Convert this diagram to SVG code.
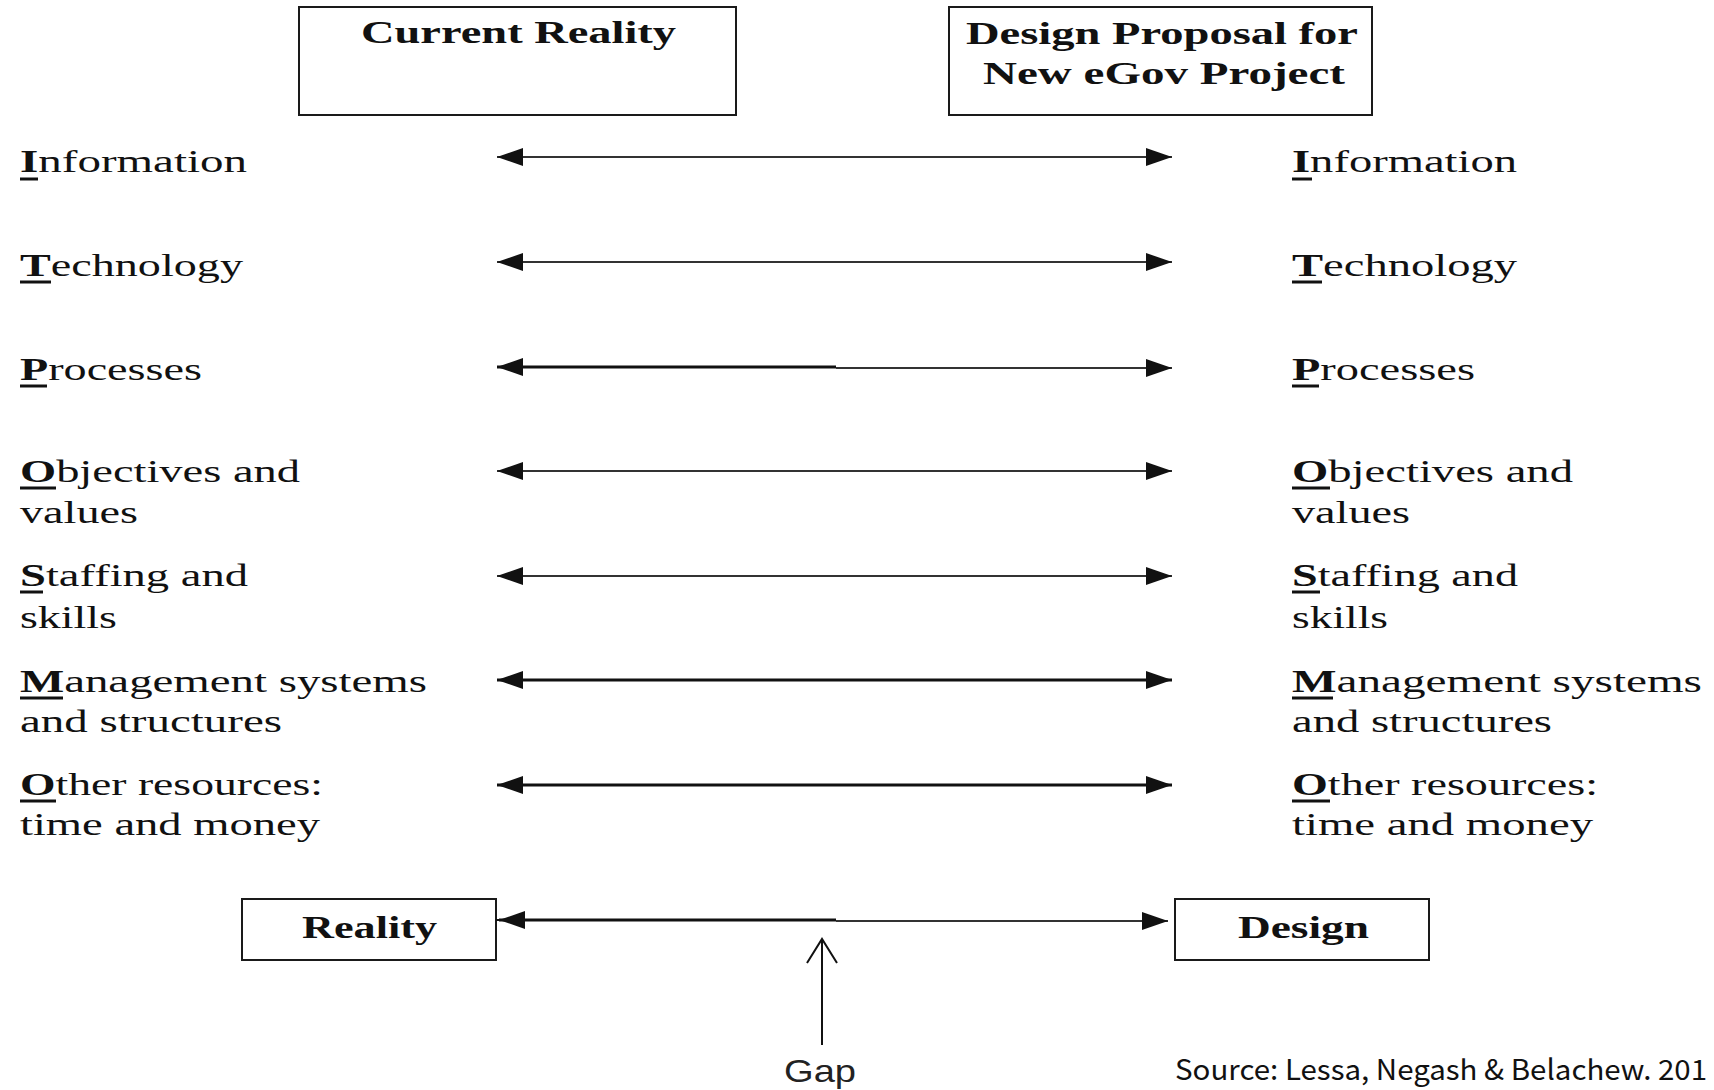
<svg xmlns="http://www.w3.org/2000/svg" width="1714" height="1090" viewBox="0 0 1714 1090">
<style>
.box{fill:#fff;stroke:#1a1a1a;stroke-width:2}
.ttl{font-family:"Liberation Serif",serif;font-weight:bold;font-size:32px;fill:#111}
.lbl{font-family:"Liberation Serif",serif;font-size:31px;fill:#111}
.ini{font-weight:bold}
.ul{stroke:#111;stroke-width:3}
.ar{fill:none;stroke:#333;stroke-width:2.2;marker-start:url(#ah);marker-end:url(#ah)}
.ar.thk{stroke:#111;stroke-width:3}
.gap{font-family:"Liberation Sans",sans-serif;font-size:32px;fill:#222}
.src{font-family:"Noto Sans CJK SC","Liberation Sans",sans-serif;font-size:28px;fill:#111}
</style>
<defs>
<marker id="ah" markerUnits="userSpaceOnUse" markerWidth="28" markerHeight="20" refX="26" refY="9" orient="auto-start-reverse">
<path d="M0,0 L26,9 L0,18 Z" fill="#111"/>
</marker>
</defs>
<rect width="1714" height="1090" fill="#fff"/>

<g id="current-reality">
<rect class="box" x="299" y="7" width="437" height="108"/>
<text class="ttl" x="361" y="43" textLength="315" lengthAdjust="spacingAndGlyphs">Current Reality</text>
</g>
<g id="design-proposal">
<rect class="box" x="949" y="7" width="423" height="108"/>
<text class="ttl" x="966" y="44" textLength="392" lengthAdjust="spacingAndGlyphs">Design Proposal for</text>
<text class="ttl" x="983" y="84" textLength="362" lengthAdjust="spacingAndGlyphs">New eGov Project</text>
</g>

<g id="left-labels">
<g id="l-information"><text class="lbl" x="20" y="172" textLength="227" lengthAdjust="spacingAndGlyphs"><tspan class="ini">I</tspan>nformation</text><line class="ul" x1="20" y1="179" x2="38" y2="179"/></g>
<g id="l-technology"><text class="lbl" x="20" y="276" textLength="223" lengthAdjust="spacingAndGlyphs"><tspan class="ini">T</tspan>echnology</text><line class="ul" x1="20" y1="282" x2="51" y2="282"/></g>
<g id="l-processes"><text class="lbl" x="20" y="380" textLength="182" lengthAdjust="spacingAndGlyphs"><tspan class="ini">P</tspan>rocesses</text><line class="ul" x1="20" y1="386" x2="47" y2="386"/></g>
<g id="l-objectives"><text class="lbl" x="20" y="482" textLength="280" lengthAdjust="spacingAndGlyphs"><tspan class="ini">O</tspan>bjectives and</text><text class="lbl" x="20" y="523" textLength="118" lengthAdjust="spacingAndGlyphs">values</text><line class="ul" x1="20" y1="488" x2="56" y2="488"/></g>
<g id="l-staffing"><text class="lbl" x="20" y="586" textLength="228" lengthAdjust="spacingAndGlyphs"><tspan class="ini">S</tspan>taffing and</text><text class="lbl" x="20" y="628" textLength="97" lengthAdjust="spacingAndGlyphs">skills</text><line class="ul" x1="20" y1="592" x2="43" y2="592"/></g>
<g id="l-management"><text class="lbl" x="20" y="692" textLength="407" lengthAdjust="spacingAndGlyphs"><tspan class="ini">M</tspan>anagement systems</text><text class="lbl" x="20" y="732" textLength="262" lengthAdjust="spacingAndGlyphs">and structures</text><line class="ul" x1="20" y1="698" x2="63" y2="698"/></g>
<g id="l-other"><text class="lbl" x="20" y="795" textLength="303" lengthAdjust="spacingAndGlyphs"><tspan class="ini">O</tspan>ther resources:</text><text class="lbl" x="20" y="835" textLength="300" lengthAdjust="spacingAndGlyphs">time and money</text><line class="ul" x1="20" y1="801" x2="56" y2="801"/></g>
</g>

<g id="right-labels">
<g id="r-information"><text class="lbl" x="1292" y="172" textLength="225" lengthAdjust="spacingAndGlyphs"><tspan class="ini">I</tspan>nformation</text><line class="ul" x1="1292" y1="179" x2="1312" y2="179"/></g>
<g id="r-technology"><text class="lbl" x="1292" y="276" textLength="225" lengthAdjust="spacingAndGlyphs"><tspan class="ini">T</tspan>echnology</text><line class="ul" x1="1292" y1="282" x2="1322" y2="282"/></g>
<g id="r-processes"><text class="lbl" x="1292" y="380" textLength="183" lengthAdjust="spacingAndGlyphs"><tspan class="ini">P</tspan>rocesses</text><line class="ul" x1="1292" y1="386" x2="1319" y2="386"/></g>
<g id="r-objectives"><text class="lbl" x="1292" y="482" textLength="281" lengthAdjust="spacingAndGlyphs"><tspan class="ini">O</tspan>bjectives and</text><text class="lbl" x="1292" y="523" textLength="118" lengthAdjust="spacingAndGlyphs">values</text><line class="ul" x1="1292" y1="488" x2="1330" y2="488"/></g>
<g id="r-staffing"><text class="lbl" x="1292" y="586" textLength="226" lengthAdjust="spacingAndGlyphs"><tspan class="ini">S</tspan>taffing and</text><text class="lbl" x="1292" y="628" textLength="96" lengthAdjust="spacingAndGlyphs">skills</text><line class="ul" x1="1292" y1="592" x2="1320" y2="592"/></g>
<g id="r-management"><text class="lbl" x="1292" y="692" textLength="410" lengthAdjust="spacingAndGlyphs"><tspan class="ini">M</tspan>anagement systems</text><text class="lbl" x="1292" y="732" textLength="260" lengthAdjust="spacingAndGlyphs">and structures</text><line class="ul" x1="1292" y1="698" x2="1333" y2="698"/></g>
<g id="r-other"><text class="lbl" x="1292" y="795" textLength="306" lengthAdjust="spacingAndGlyphs"><tspan class="ini">O</tspan>ther resources:</text><text class="lbl" x="1292" y="835" textLength="301" lengthAdjust="spacingAndGlyphs">time and money</text><line class="ul" x1="1292" y1="801" x2="1330" y2="801"/></g>
</g>

<g id="reality">
<rect class="box" x="242" y="899" width="254" height="61"/>
<text class="ttl" x="302" y="938" textLength="135" lengthAdjust="spacingAndGlyphs">Reality</text>
</g>
<g id="design">
<rect class="box" x="1175" y="899" width="254" height="61"/>
<text class="ttl" x="1238" y="938" textLength="131" lengthAdjust="spacingAndGlyphs">Design</text>
</g>

<g id="gap-label">
<text class="gap" x="784" y="1082" textLength="72" lengthAdjust="spacingAndGlyphs">Gap</text>
</g>
<g id="source">
<text class="src" x="1175" y="1080" textLength="532" lengthAdjust="spacingAndGlyphs">Source: Lessa, Negash &amp; Belachew. 201</text>
</g>

<g id="connectors">
<path class="ar" d="M497,157 H1172"/>
<path class="ar" d="M497,262 H1172"/>
<path class="ar thk" d="M497,367 H836" style="marker-end:none"/>
<path class="ar" d="M836,368 H1172" style="marker-start:none"/>
<path class="ar" d="M497,471 H1172"/>
<path class="ar" d="M497,576 H1172"/>
<path class="ar thk" d="M497,680 H1172"/>
<path class="ar thk" d="M497,785 H1172"/>
<path class="ar thk" d="M499,920 H836" style="marker-end:none"/>
<path class="ar" d="M836,921 H1168" style="marker-start:none"/>
<path d="M496,920 H500" stroke="#111" stroke-width="2"/>
<path d="M822,1045 V939" fill="none" stroke="#111" stroke-width="2"/>
<path d="M807,963 L822,939 L837,963" fill="none" stroke="#111" stroke-width="2"/>
</g>
</svg>
